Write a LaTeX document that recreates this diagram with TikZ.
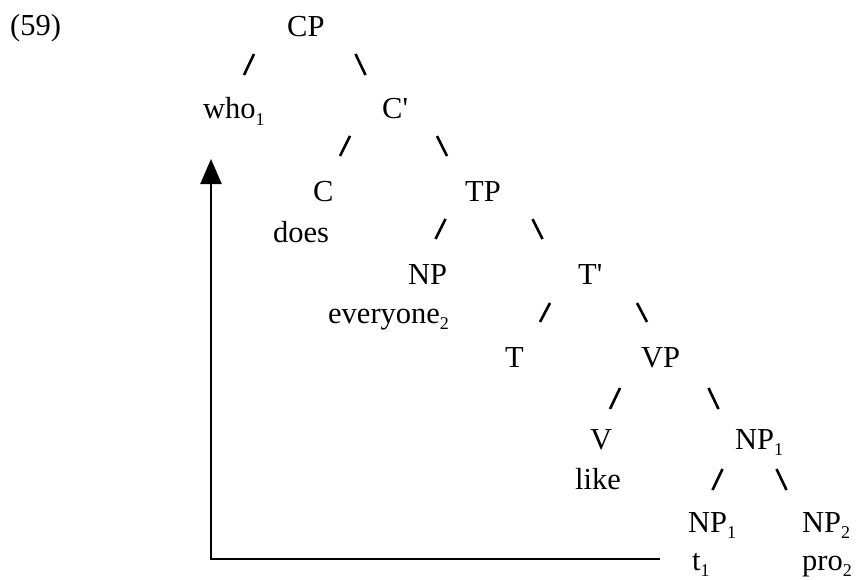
\documentclass[tikz,border=0pt]{standalone}
\usepackage{fontspec}
\setmainfont{Liberation Serif}
\usetikzlibrary{arrows.meta}
\newcommand{\lsub}[1]{\raisebox{-6.5pt}{\fontsize{18}{18}\selectfont #1}}
\newcommand{\bprime}{\textquotesingle}
\begin{document}
\begin{tikzpicture}[x=1pt,y=-1pt,
  lab/.style={anchor=base west, inner sep=0pt, font=\fontsize{30.5}{36}\selectfont},
  br/.style={line width=2.6pt},
  mover/.style={line width=2.5pt, -{Triangle[width=21pt,length=25pt]}}]
\useasboundingbox (0,0) rectangle (858,580);
% labels
\node[lab] (ex) at (10,36) {(59)};
\node[lab] (CP) at (287,37) {CP};
\node[lab] (who) at (203,119) {who\lsub{1}};
\node[lab] (Cbar) at (382,119) {C\bprime};
\node[lab] (C) at (313,201) {C};
\node[lab] (does) at (273,242) {does};
\node[lab] (TP) at (465,201) {TP};
\node[lab] (NP) at (408,284) {NP};
\node[lab] (every) at (328,323) {everyone\lsub{2}};
\node[lab] (Tbar) at (578,284) {T\bprime};
\node[lab] (T) at (505,367) {T};
\node[lab] (VP) at (641,367) {VP};
\node[lab] (V) at (590,449) {V};
\node[lab] (like) at (575,489) {like};
\node[lab] (NPa) at (735,449) {NP\lsub{1}};
\node[lab] (NPb) at (688,532) {NP\lsub{1}};
\node[lab] (t) at (692,570) {t\lsub{1}};
\node[lab] (NPc) at (802,532) {NP\lsub{2}};
\node[lab] (pro) at (802,570) {pro\lsub{2}};
% branch marks
\draw[br] (244,75) -- (254,54);   \draw[br] (355.5,54) -- (365.5,75);
\draw[br] (340,156) -- (350,136); \draw[br] (437,136) -- (447,156);
\draw[br] (435.5,239) -- (445.5,219); \draw[br] (532.5,219) -- (542.5,239);
\draw[br] (540,322) -- (550,303); \draw[br] (637,303) -- (647,322);
\draw[br] (610,409) -- (620,388); \draw[br] (708.5,388) -- (718.5,409);
\draw[br] (712.5,490) -- (722.5,469); \draw[br] (776.5,469) -- (786.5,490);
% movement arrow
\coordinate (lineend) at (660,559);
\coordinate (tip) at (211,159);
\draw[mover] (lineend) -| (tip);
\end{tikzpicture}
\end{document}
